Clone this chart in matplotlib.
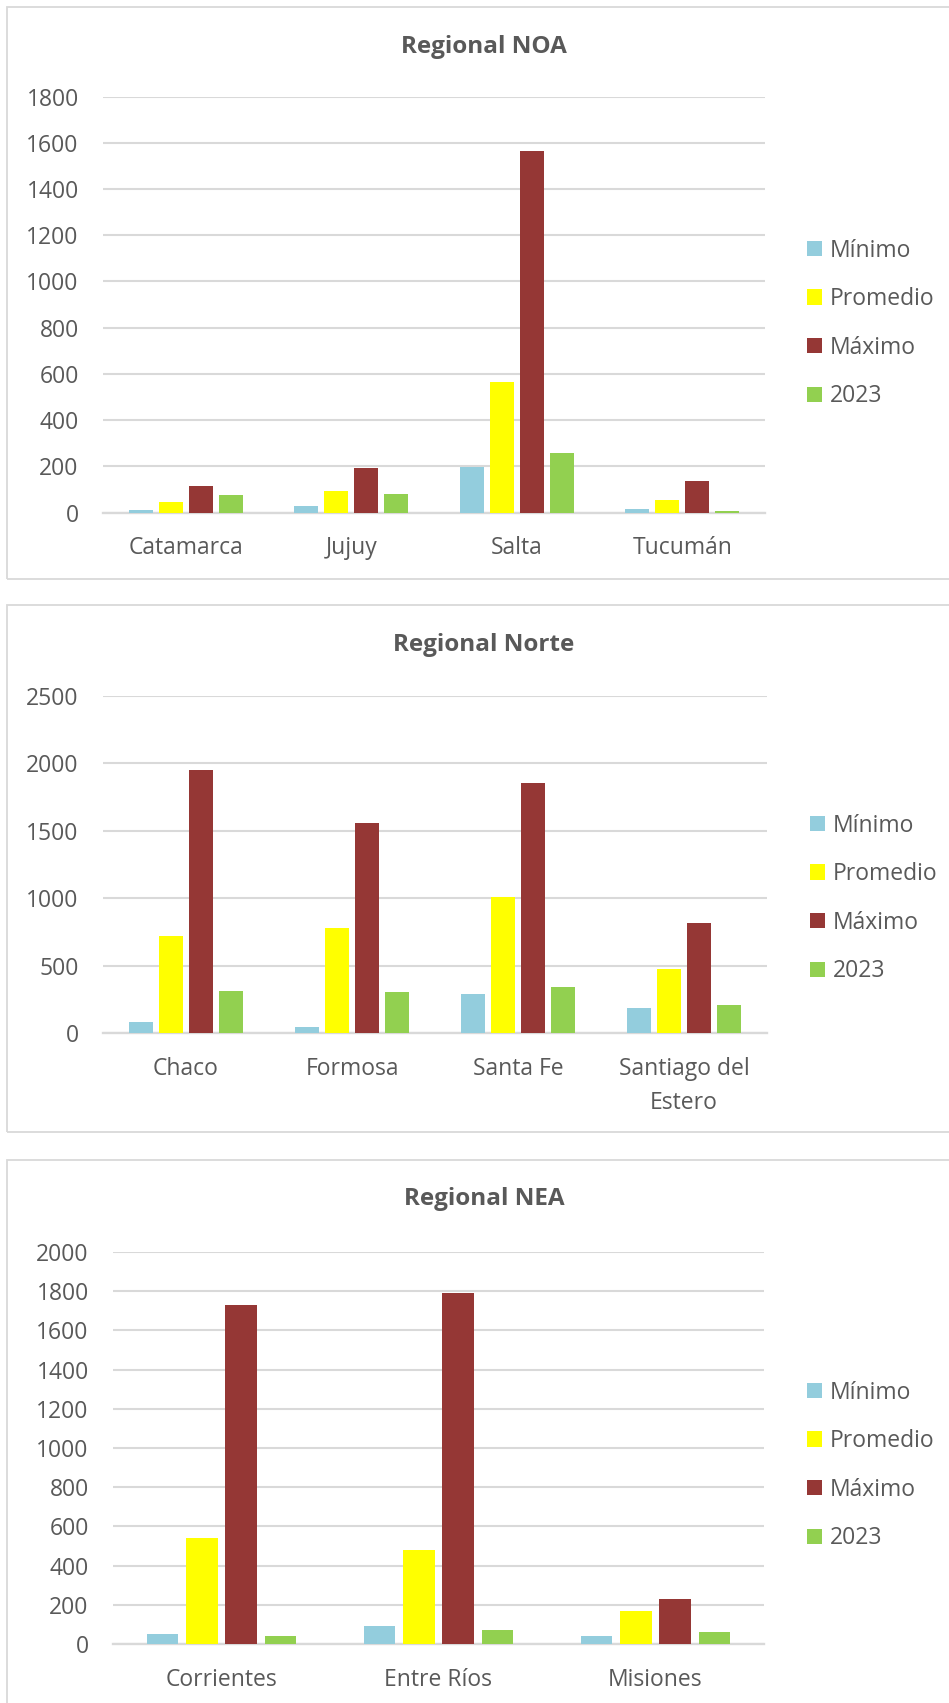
import matplotlib
matplotlib.use("Agg")
import matplotlib.pyplot as plt
from matplotlib.patches import Rectangle
import numpy as np

plt.rcParams['font.family'] = ['Open Sans', 'DejaVu Sans']

series = ['Mínimo', 'Promedio', 'Máximo', '2023']
colors = ['#93CDDD', '#FFFF00', '#953735', '#92D050']

# Regional NOA
noa_cats = ['Catamarca', 'Jujuy', 'Salta', 'Tucumán']
noa_min = [12, 27, 198, 13]
noa_prom = [46, 94, 565, 55]
noa_max = [116, 194, 1565, 136]
noa_2023 = [77, 78, 258, 6]

# Regional Norte
norte_cats = ['Chaco', 'Formosa', 'Santa Fe', 'Santiago del\nEstero']
norte_min = [78, 43, 292, 187]
norte_prom = [722, 775, 1010, 473]
norte_max = [1951, 1554, 1853, 812]
norte_2023 = [308, 302, 338, 207]

# Regional NEA
nea_cats = ['Corrientes', 'Entre Ríos', 'Misiones']
nea_min = [50, 92, 43]
nea_prom = [540, 478, 169]
nea_max = [1732, 1790, 230]
nea_2023 = [41, 70, 59]

W, H = 949, 1703
TXT = '#595959'
GRID = '#D9D9D9'

fig = plt.figure(figsize=(W / 100, H / 100), dpi=100)


def px_axes(left, right, top, bottom):
    return fig.add_axes([left / W, 1 - bottom / H, (right - left) / W, (bottom - top) / H])


def draw_chart(box, plot, title, title_y, cats, data, ymax, ystep, leg):
    # marco del grafico
    bx0, by0, by1 = box
    fig.patches.append(Rectangle((bx0 / W, 1 - by1 / H), (970 - bx0) / W, (by1 - by0) / H,
                                 transform=fig.transFigure, fill=False,
                                 edgecolor=GRID, linewidth=1.3))
    fig.text(484 / W, 1 - title_y / H, title, ha='center', va='center',
             fontsize=17.5, fontweight='bold', color=TXT)

    ax = px_axes(*plot)
    n = len(cats)
    x = np.arange(n)
    pitch, width = 0.181, 0.145
    for j, (vals, c, lab) in enumerate(zip(data, colors, series)):
        ax.bar(x + (j - 1.5) * pitch, vals, width, color=c, label=lab, zorder=3)

    ax.set_xlim(-0.5, n - 0.5)
    ax.set_ylim(0, ymax)
    ax.set_yticks(np.arange(0, ymax + 1, ystep))
    ax.set_xticks(x)
    ax.set_xticklabels(cats, linespacing=1.55)
    ax.yaxis.grid(True, color=GRID, linewidth=1.5, zorder=0)
    ax.set_axisbelow(True)
    for s in ax.spines.values():
        s.set_visible(False)
    ax.axhline(0, color=GRID, linewidth=1.7, zorder=2, clip_on=False)
    ax.tick_params(axis='y', length=0, pad=17.5, labelsize=16.5, labelcolor=TXT)
    ax.tick_params(axis='x', length=0, pad=17, labelsize=16.5, labelcolor=TXT)

    lx, ly = leg
    ax.legend(loc='center left', bbox_to_anchor=(lx / W, 1 - ly / H),
              bbox_transform=fig.transFigure, frameon=False, fontsize=16.5,
              labelcolor=TXT, borderpad=0, borderaxespad=0, handlelength=0.66,
              handleheight=0.66, handletextpad=0.35, labelspacing=1.07)
    return ax


draw_chart((7, 7, 579), (103, 765, 96.5, 512.5), 'Regional NOA', 47,
           noa_cats, [noa_min, noa_prom, noa_max, noa_2023], 1800, 200, (807, 323.5))
draw_chart((7, 605, 1132), (103, 767, 695.5, 1033), 'Regional Norte', 645,
           norte_cats, [norte_min, norte_prom, norte_max, norte_2023], 2500, 500, (810, 898.5))
draw_chart((7, 1160, 1720), (113, 764, 1252, 1644), 'Regional NEA', 1199,
           nea_cats, [nea_min, nea_prom, nea_max, nea_2023], 2000, 200, (807, 1465.5))

fig.savefig('out.png', dpi=100)
